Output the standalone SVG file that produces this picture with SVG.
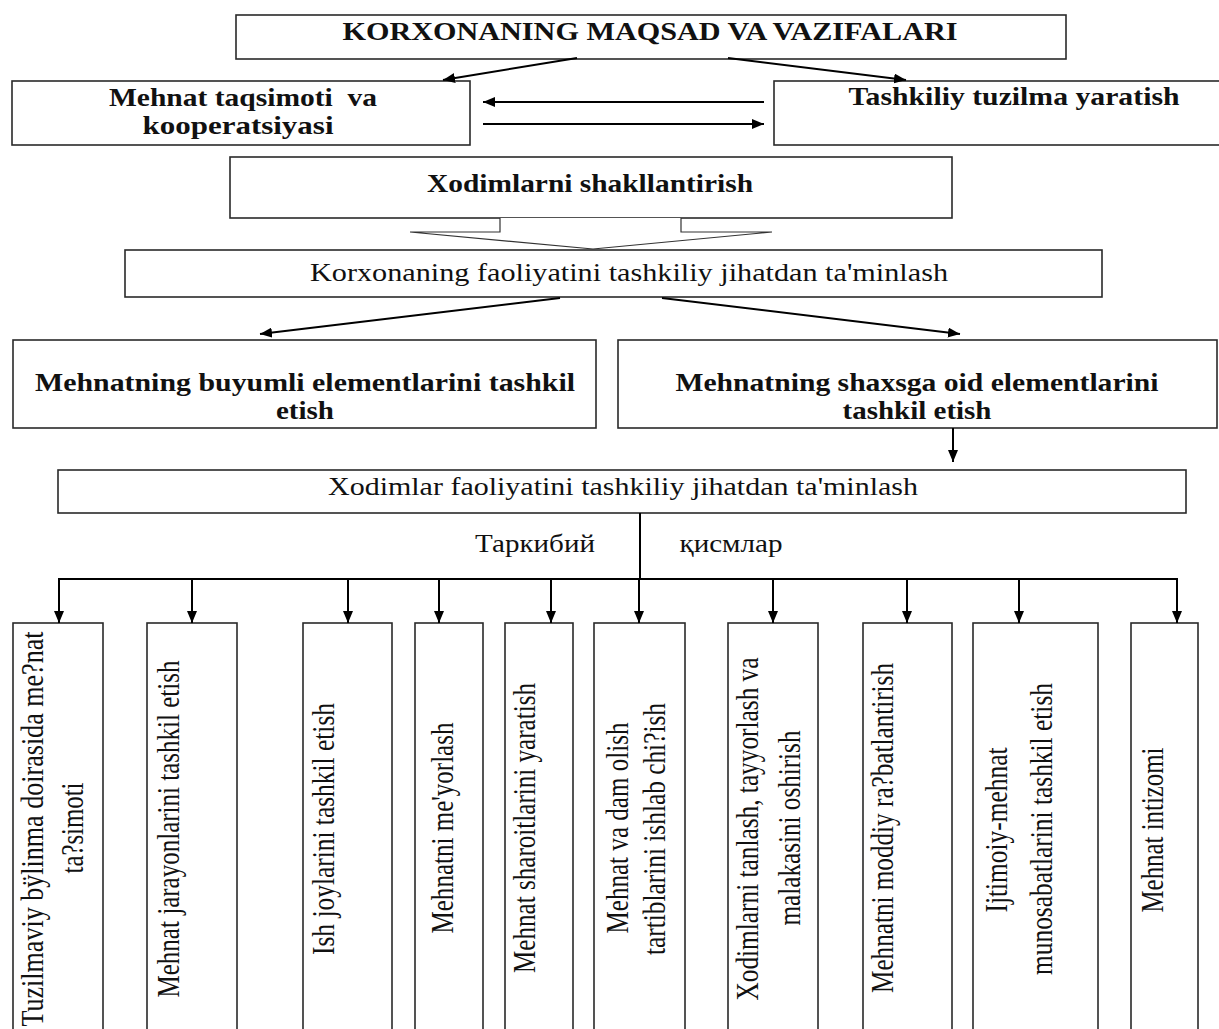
<svg xmlns="http://www.w3.org/2000/svg" width="1219" height="1029" viewBox="0 0 1219 1029">
<style>
.box{fill:#fff;stroke:#2a2a2a;stroke-width:1.6}
.b{font-family:"Liberation Serif","Times New Roman",serif;font-weight:bold;fill:#111;text-anchor:middle}
.n{font-family:"Liberation Serif","Times New Roman",serif;fill:#111;text-anchor:middle}
.v{font-family:"Liberation Serif","Times New Roman",serif;fill:#111;text-anchor:middle;font-size:31px}
.c{fill:none;stroke:#000;stroke-width:2}
.thin{fill:#fff;stroke:#333;stroke-width:1.2}
</style>
<defs>
<marker id="ah" viewBox="0 0 12 10" refX="12" refY="5" markerWidth="12" markerHeight="10" markerUnits="userSpaceOnUse" orient="auto">
<path d="M0,0 L12,5 L0,10 z" fill="#000"/>
</marker>
</defs>
<rect width="1219" height="1029" fill="#fff"/>

<g id="n-title"><rect class="box" x="236" y="15" width="830" height="44"/>
<text class="b" x="650" y="40" font-size="26" textLength="615" lengthAdjust="spacingAndGlyphs">KORXONANING MAQSAD VA VAZIFALARI</text></g>

<g id="n-mehnat-taqsimoti"><rect class="box" x="12" y="81" width="458" height="64"/>
<text class="b" x="243" y="106" font-size="25" textLength="268" lengthAdjust="spacingAndGlyphs" xml:space="preserve">Mehnat taqsimoti  va</text>
<text class="b" x="238" y="134" font-size="25" textLength="191" lengthAdjust="spacingAndGlyphs">kooperatsiyasi</text></g>

<g id="n-tashkiliy"><rect class="box" x="774" y="81" width="460" height="64"/>
<text class="b" x="1014" y="105" font-size="25" textLength="331" lengthAdjust="spacingAndGlyphs">Tashkiliy tuzilma yaratish</text></g>

<g id="n-xodimlarni"><rect class="box" x="230" y="157" width="722" height="61"/>
<text class="b" x="590" y="192" font-size="26" textLength="326" lengthAdjust="spacingAndGlyphs">Xodimlarni shakllantirish</text></g>

<g id="n-korxonaning"><rect class="box" x="125" y="250" width="977" height="47"/>
<text class="n" x="629" y="281" font-size="25" textLength="638" lengthAdjust="spacingAndGlyphs">Korxonaning faoliyatini tashkiliy jihatdan ta'minlash</text></g>

<g id="n-buyumli"><rect class="box" x="13" y="340" width="583" height="88"/>
<text class="b" x="305" y="391" font-size="25" textLength="540" lengthAdjust="spacingAndGlyphs">Mehnatning buyumli elementlarini tashkil</text>
<text class="b" x="305" y="419" font-size="25" textLength="58" lengthAdjust="spacingAndGlyphs">etish</text></g>

<g id="n-shaxsga"><rect class="box" x="618" y="340" width="599" height="88"/>
<text class="b" x="917" y="391" font-size="25" textLength="483" lengthAdjust="spacingAndGlyphs">Mehnatning shaxsga oid elementlarini</text>
<text class="b" x="917" y="419" font-size="25" textLength="149" lengthAdjust="spacingAndGlyphs">tashkil etish</text></g>

<g id="n-xodimlar-faol"><rect class="box" x="58" y="470" width="1128" height="43"/>
<text class="n" x="623" y="495" font-size="25" textLength="590" lengthAdjust="spacingAndGlyphs">Xodimlar faoliyatini tashkiliy jihatdan ta'minlash</text></g>

<g id="labels">
<text class="n" x="535" y="552" font-size="25" textLength="120" lengthAdjust="spacingAndGlyphs">Таркибий</text>
<text class="n" x="731" y="552" font-size="25" textLength="103" lengthAdjust="spacingAndGlyphs">қисмлар</text>
</g>

<g id="n-b1"><rect class="box" x="13" y="623" width="90" height="420"/>
<text class="v" transform="translate(43,829) rotate(-90)" textLength="395" lengthAdjust="spacingAndGlyphs">Tuzilmaviy bÿlinma doirasida me?nat</text>
<text class="v" transform="translate(83,828) rotate(-90)" textLength="91" lengthAdjust="spacingAndGlyphs">ta?simoti</text></g>
<g id="n-b2"><rect class="box" x="147" y="623" width="90" height="420"/>
<text class="v" transform="translate(179,829) rotate(-90)" textLength="337" lengthAdjust="spacingAndGlyphs">Mehnat jarayonlarini tashkil etish</text></g>
<g id="n-b3"><rect class="box" x="303" y="623" width="89" height="420"/>
<text class="v" transform="translate(334,829) rotate(-90)" textLength="252" lengthAdjust="spacingAndGlyphs">Ish joylarini tashkil etish</text></g>
<g id="n-b4"><rect class="box" x="415" y="623" width="68" height="420"/>
<text class="v" transform="translate(453,828) rotate(-90)" textLength="211" lengthAdjust="spacingAndGlyphs">Mehnatni me'yorlash</text></g>
<g id="n-b5"><rect class="box" x="505" y="623" width="68" height="420"/>
<text class="v" transform="translate(535,828) rotate(-90)" textLength="290" lengthAdjust="spacingAndGlyphs">Mehnat sharoitlarini yaratish</text></g>
<g id="n-b6"><rect class="box" x="594" y="623" width="91" height="420"/>
<text class="v" transform="translate(628,828) rotate(-90)" textLength="211" lengthAdjust="spacingAndGlyphs">Mehnat va dam olish</text>
<text class="v" transform="translate(665,829) rotate(-90)" textLength="252" lengthAdjust="spacingAndGlyphs">tartiblarini ishlab chi?ish</text></g>
<g id="n-b7"><rect class="box" x="728" y="623" width="90" height="420"/>
<text class="v" transform="translate(758,829) rotate(-90)" textLength="343" lengthAdjust="spacingAndGlyphs">Xodimlarni tanlash, tayyorlash va</text>
<text class="v" transform="translate(800,828) rotate(-90)" textLength="195" lengthAdjust="spacingAndGlyphs">malakasini oshirish</text></g>
<g id="n-b8"><rect class="box" x="863" y="623" width="89" height="420"/>
<text class="v" transform="translate(893,828) rotate(-90)" textLength="330" lengthAdjust="spacingAndGlyphs">Mehnatni moddiy ra?batlantirish</text></g>
<g id="n-b9"><rect class="box" x="973" y="623" width="125" height="420"/>
<text class="v" transform="translate(1007,830) rotate(-90)" textLength="165" lengthAdjust="spacingAndGlyphs">Ijtimoiy-mehnat</text>
<text class="v" transform="translate(1052,829) rotate(-90)" textLength="292" lengthAdjust="spacingAndGlyphs">munosabatlarini tashkil etish</text></g>
<g id="n-b10"><rect class="box" x="1131" y="623" width="67" height="420"/>
<text class="v" transform="translate(1163,830) rotate(-90)" textLength="165" lengthAdjust="spacingAndGlyphs">Mehnat intizomi</text></g>

<g id="connectors">
<line class="c" x1="577" y1="58" x2="443" y2="80" marker-end="url(#ah)"/>
<line class="c" x1="728" y1="58" x2="906" y2="80" marker-end="url(#ah)"/>
<line class="c" x1="764" y1="102" x2="483" y2="102" marker-end="url(#ah)"/>
<line class="c" x1="483" y1="124" x2="764" y2="124" marker-end="url(#ah)"/>
<path class="thin" d="M500,218 L500,232 L410,232 L593,249 L772,232 L681,232 L681,218"/>
<line class="c" x1="560" y1="298" x2="260" y2="334" marker-end="url(#ah)"/>
<line class="c" x1="662" y1="298" x2="960" y2="334" marker-end="url(#ah)"/>
<line class="c" x1="953" y1="428" x2="953" y2="462" marker-end="url(#ah)"/>
<line class="c" x1="640" y1="513" x2="640" y2="580"/>
<line class="c" x1="58" y1="579" x2="1178" y2="579" stroke-width="2.6"/>
<line class="c" x1="59" y1="579" x2="59" y2="623" marker-end="url(#ah)"/>
<line class="c" x1="192" y1="579" x2="192" y2="623" marker-end="url(#ah)"/>
<line class="c" x1="348" y1="579" x2="348" y2="623" marker-end="url(#ah)"/>
<line class="c" x1="439" y1="579" x2="439" y2="623" marker-end="url(#ah)"/>
<line class="c" x1="551" y1="579" x2="551" y2="623" marker-end="url(#ah)"/>
<line class="c" x1="639" y1="579" x2="639" y2="623" marker-end="url(#ah)"/>
<line class="c" x1="773" y1="579" x2="773" y2="623" marker-end="url(#ah)"/>
<line class="c" x1="907" y1="579" x2="907" y2="623" marker-end="url(#ah)"/>
<line class="c" x1="1019" y1="579" x2="1019" y2="623" marker-end="url(#ah)"/>
<line class="c" x1="1177" y1="579" x2="1177" y2="623" marker-end="url(#ah)"/>
</g>
</svg>
